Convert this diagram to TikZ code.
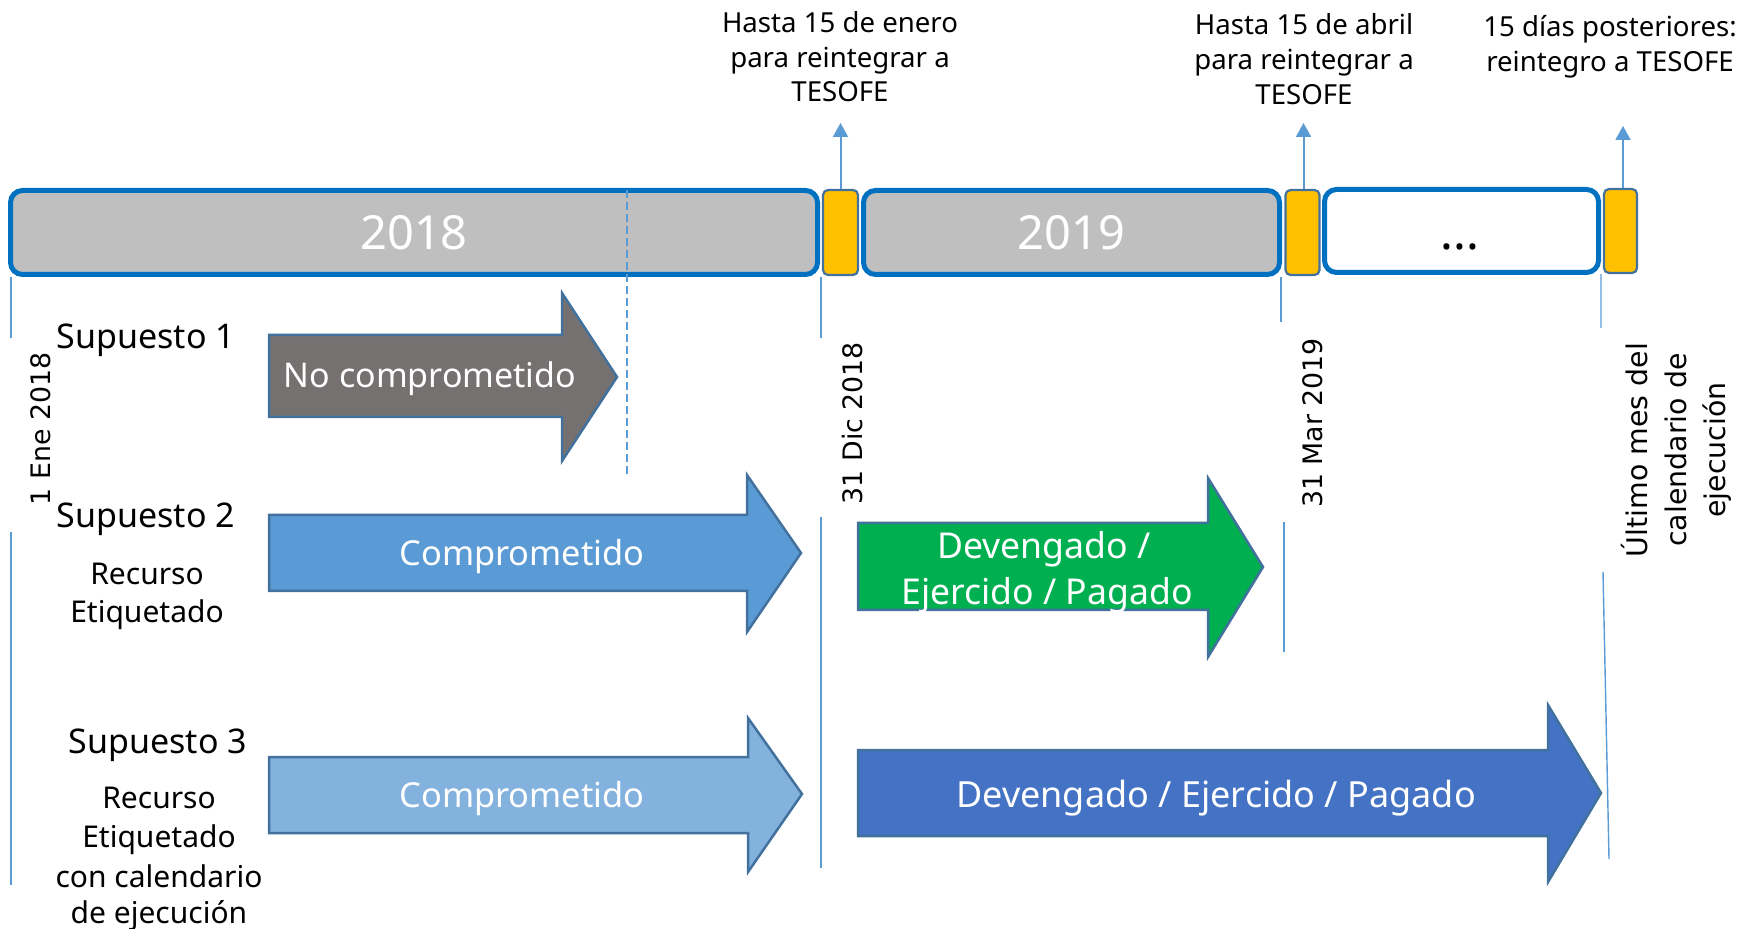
\documentclass[tikz,border=0pt]{standalone}
\usepackage{fontspec}
\setmainfont{Noto Sans}
\newfontfamily\dvfont{DejaVu Sans}
\usetikzlibrary{arrows.meta}
\definecolor{barblue}{HTML}{0070C0}
\definecolor{bargray}{HTML}{BFBFBF}
\definecolor{yel}{HTML}{FFC000}
\definecolor{edgeblue}{HTML}{41719C}
\definecolor{accent}{HTML}{5B9BD5}
\definecolor{grayarr}{HTML}{767171}
\definecolor{lightblue}{HTML}{84B2DF}
\definecolor{greenarr}{HTML}{00B050}
\definecolor{darkblue}{HTML}{4472C4}
\newcommand{\setfs}[2]{\fontsize{#1}{#2}\selectfont}
\begin{document}
\begin{tikzpicture}[x=0.5pt,y=-0.5pt,
  yearbar/.style={draw=barblue, line width=2.5pt, rounded corners=6pt, fill=bargray, inner sep=0pt, text=white, font=\setfs{23.5pt}{27pt}},
  ybox/.style={draw=edgeblue, line width=1.1pt, rounded corners=2.5pt, fill=yel, inner sep=0pt},
  upar/.style={draw=accent, line width=1pt, -{Triangle[width=7.5pt,length=7pt]}},
  vline/.style={draw=accent, line width=0.7pt},
  blockarr/.style={draw=edgeblue, line width=1.25pt},
  toplbl/.style={anchor=base, inner sep=0pt, font=\setfs{13.8pt}{17pt}},
  suplbl/.style={anchor=base, inner sep=0pt, font=\setfs{17pt}{20pt}},
  reclbl/.style={anchor=base, inner sep=0pt, font=\setfs{15pt}{19pt}},
  arrlbl/.style={anchor=base, inner sep=0pt, text=white, font=\setfs{17.2pt}{22pt}},
  datelbl/.style={anchor=base, inner sep=0pt, rotate=90, font=\dvfont\setfs{13.4pt}{16pt}}
]
\useasboundingbox (0,0) rectangle (1744,929);

% timeline bars
\node[yearbar, minimum width=403.5pt, minimum height=42pt] (y2018) at (414,232.5) {2018};
\node[yearbar, minimum width=208pt, minimum height=42pt] (y2019) at (1071.5,232.5) {2019};
\node[yearbar, fill=white, minimum width=137pt, minimum height=41.5pt] (ynext) at (1461.5,231) {};
\node[anchor=base, inner sep=0pt, font=\bfseries\setfs{24pt}{28pt}] (dots) at (1460,250) {...};

% yellow boxes
\node[ybox, minimum width=17.5pt, minimum height=42.5pt] (q1) at (840.5,232.5) {};
\node[ybox, minimum width=17pt, minimum height=42.5pt] (q2) at (1302.5,232.5) {};
\node[ybox, minimum width=16.5pt, minimum height=42pt] (q3) at (1620.5,231) {};

% up arrows
\coordinate (t1) at (840.5,123);
\coordinate (t2) at (1303.5,123);
\coordinate (t3) at (1623,126);
\draw[upar] (q1.north) -- (t1);
\draw[upar] (q2.north -| t2) -- (t2);
\draw[upar] (q3.north -| t3) -- (t3);

% top labels
\node[toplbl] (e1) at (840,33) {Hasta 15 de enero};
\node[toplbl] (e2) at (840,67.5) {para reintegrar a};
\node[toplbl] (e3) at (840,102) {TESOFE};
\node[toplbl] (a1) at (1304,35) {Hasta 15 de abril};
\node[toplbl] (a2) at (1304,70) {para reintegrar a};
\node[toplbl] (a3) at (1304,105) {TESOFE};
\node[toplbl] (p1) at (1610,37) {15 días posteriores:};
\node[toplbl] (p2) at (1610,72) {reintegro a TESOFE};

% vertical tick lines
\coordinate (l0a) at (11,277); \coordinate (l0b) at (11,338);
\coordinate (l0c) at (11,532); \coordinate (l0d) at (11,885);
\draw[vline] (l0a) -- (l0b) (l0c) -- (l0d);
\coordinate (dsa) at (627,190); \coordinate (dsb) at (627,475);
\draw[vline, dash pattern=on 4pt off 2pt] (dsa) -- (dsb);
\coordinate (l1a) at (821,277); \coordinate (l1b) at (821,338);
\coordinate (l1c) at (821,517); \coordinate (l1d) at (821,868);
\draw[vline] (l1a) -- (l1b) (l1c) -- (l1d);
\coordinate (l2a) at (1281,277); \coordinate (l2b) at (1281,322);
\coordinate (l2c) at (1284,522); \coordinate (l2d) at (1284,652);
\draw[vline] (l2a) -- (l2b) (l2c) -- (l2d);
\coordinate (l3a) at (1601,274); \coordinate (l3b) at (1601,328);
\coordinate (l3c) at (1603,572); \coordinate (l3d) at (1609,859);
\draw[vline] (l3a) -- (l3b) (l3c) -- (l3d);

% date labels
\node[datelbl] (dEne) at (50,429) {1 Ene 2018};
\node[datelbl] (dDic) at (862,423) {31 Dic 2018};
\node[datelbl] (dMar) at (1322,423) {31 Mar 2019};
\node[inner sep=0pt, rotate=90, align=center, font=\dvfont\setfs{14.2pt}{19.5pt}] (dUlt) at (1676,450) {Último mes del\\calendario de\\ejecución};

% block arrows
\draw[blockarr, fill=grayarr] (269,335) -- (562,335) -- (562,293) -- (617,377) -- (562,461) -- (562,417) -- (269,417) -- cycle;
\draw[blockarr, fill=accent] (269,515) -- (747,515) -- (747,475) -- (801,553) -- (747,632) -- (747,591) -- (269,591) -- cycle;
\draw[blockarr, fill=lightblue] (269,757) -- (748,757) -- (748,718) -- (802,794) -- (748,872) -- (748,833) -- (269,833) -- cycle;
\draw[blockarr, fill=greenarr] (858,523) -- (1208,523) -- (1208,478) -- (1263,567) -- (1208,657) -- (1208,610) -- (858,610) -- cycle;
\draw[blockarr, fill=darkblue] (858,750) -- (1548,750) -- (1548,705) -- (1601,793) -- (1548,882) -- (1548,836) -- (858,836) -- cycle;

% arrow labels
\node[arrlbl, font=\setfs{17pt}{20pt}] (nc) at (430,388) {No comprometido};
\node[arrlbl] (c2) at (522,566) {Comprometido};
\node[arrlbl] (c3) at (522,807) {Comprometido};
\node[arrlbl, font=\setfs{17.8pt}{22pt}] (g1) at (1044,559) {Devengado /};
\node[arrlbl, font=\setfs{17.8pt}{22pt}] (g2) at (1047,604) {Ejercido / Pagado};
\node[arrlbl, font=\setfs{18pt}{22pt}] (b1) at (1216,807) {Devengado / Ejercido / Pagado};

% left labels
\node[suplbl] (s1) at (146,349) {Supuesto 1};
\node[suplbl] (s2) at (146,528) {Supuesto 2};
\node[reclbl] (r21) at (147,585) {Recurso};
\node[reclbl] (r22) at (147,623) {Etiquetado};
\node[suplbl] (s3) at (158,753) {Supuesto 3};
\node[reclbl] (r31) at (159,808) {Recurso};
\node[reclbl] (r32) at (159,847) {Etiquetado};
\node[reclbl] (r33) at (159,887) {con calendario};
\node[reclbl] (r34) at (159,923) {de ejecución};
\end{tikzpicture}
\end{document}
